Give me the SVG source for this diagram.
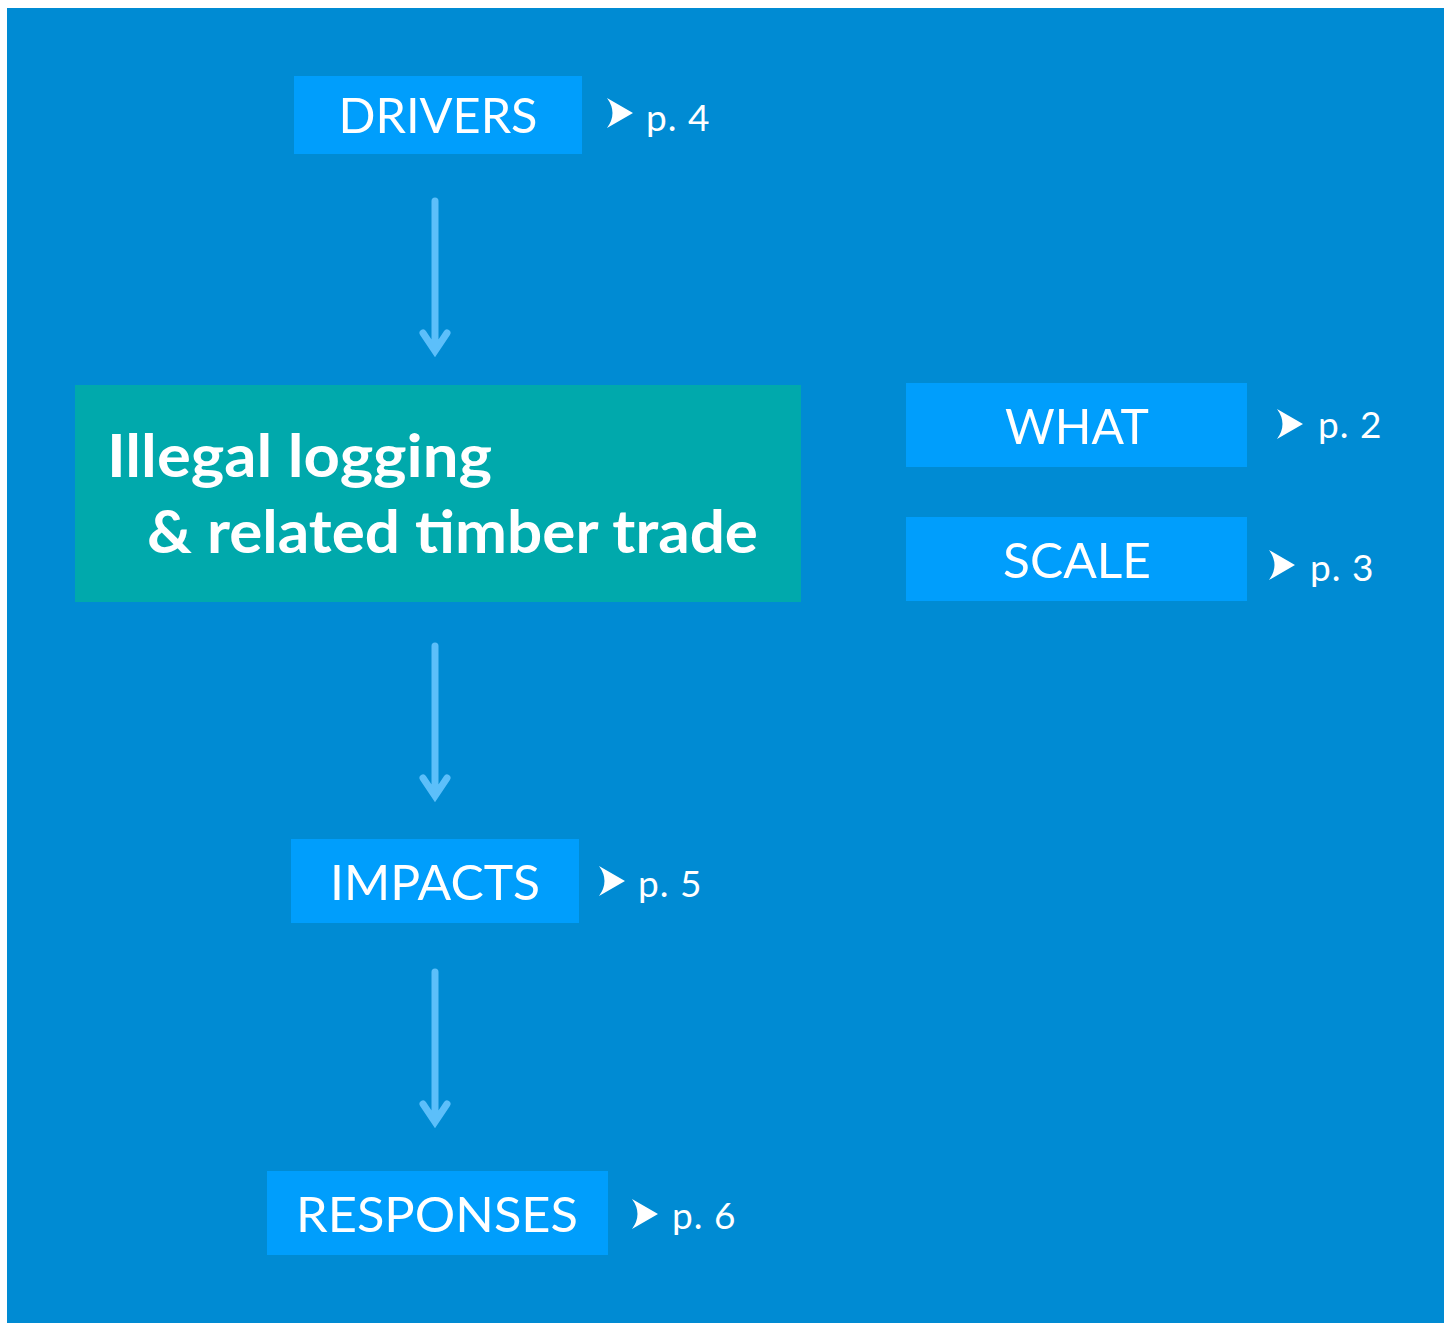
<svg xmlns="http://www.w3.org/2000/svg" width="1451" height="1323" viewBox="0 0 1451 1323">
  <style>
    .box { fill: #009EFC; }
    .lbl { font-family: Lato, "Open Sans", sans-serif; font-size: 49px; fill: #ffffff; text-anchor: middle; }
    .pg { font-family: Lato, "Open Sans", sans-serif; font-size: 37px; fill: #ffffff; letter-spacing: 1px; }
    .main { font-family: Lato, "Open Sans", sans-serif; font-weight: bold; font-size: 60px; fill: #ffffff; }
    .link { stroke: #5CBFFA; stroke-width: 7; fill: none; stroke-linecap: round; stroke-linejoin: miter; }
    .chev { fill: #ffffff; }
  </style>
  <defs>
    <path id="chev" d="M0,0 L26,15 L0,30 Q11,15 0,0 Z"/>
  </defs>

  <rect x="7" y="8" width="1437" height="1315" fill="#008BD3"/>

  <g id="connectors">
    <path class="link" d="M435,201 V348 M423,333 L435,351 L447,333"/>
    <path class="link" d="M435,646 V793 M423,778 L435,796 L447,778"/>
    <path class="link" d="M435,972 V1119 M423,1104 L435,1122 L447,1104"/>
  </g>

  <g id="drivers">
    <rect class="box" x="294" y="76" width="288" height="78"/>
    <text class="lbl" x="438" y="133" textLength="199" lengthAdjust="spacingAndGlyphs">DRIVERS</text>
    <use href="#chev" class="chev" x="607" y="98"/>
    <text class="pg" x="646" y="131">p. 4</text>
  </g>

  <g id="illegal-logging">
    <rect x="75" y="385" width="726" height="217" fill="#00A9AC"/>
    <text class="main" x="107" y="477" textLength="385" lengthAdjust="spacingAndGlyphs">Illegal logging</text>
    <text class="main" x="147" y="553" textLength="611" lengthAdjust="spacingAndGlyphs">&amp; related timber trade</text>
  </g>

  <g id="what">
    <rect class="box" x="906" y="383" width="341" height="84"/>
    <text class="lbl" x="1077" y="444" textLength="144" lengthAdjust="spacingAndGlyphs">WHAT</text>
    <use href="#chev" class="chev" x="1277" y="409"/>
    <text class="pg" x="1318" y="438">p. 2</text>
  </g>

  <g id="scale">
    <rect class="box" x="906" y="517" width="341" height="84"/>
    <text class="lbl" x="1077" y="578" textLength="148" lengthAdjust="spacingAndGlyphs">SCALE</text>
    <use href="#chev" class="chev" x="1269" y="550"/>
    <text class="pg" x="1310" y="581">p. 3</text>
  </g>

  <g id="impacts">
    <rect class="box" x="291" y="839" width="288" height="84"/>
    <text class="lbl" x="435" y="900" textLength="210" lengthAdjust="spacingAndGlyphs">IMPACTS</text>
    <use href="#chev" class="chev" x="599" y="866"/>
    <text class="pg" x="638" y="897">p. 5</text>
  </g>

  <g id="responses">
    <rect class="box" x="267" y="1171" width="341" height="84"/>
    <text class="lbl" x="437" y="1232" textLength="282" lengthAdjust="spacingAndGlyphs">RESPONSES</text>
    <use href="#chev" class="chev" x="632" y="1199"/>
    <text class="pg" x="672" y="1229">p. 6</text>
  </g>
</svg>
